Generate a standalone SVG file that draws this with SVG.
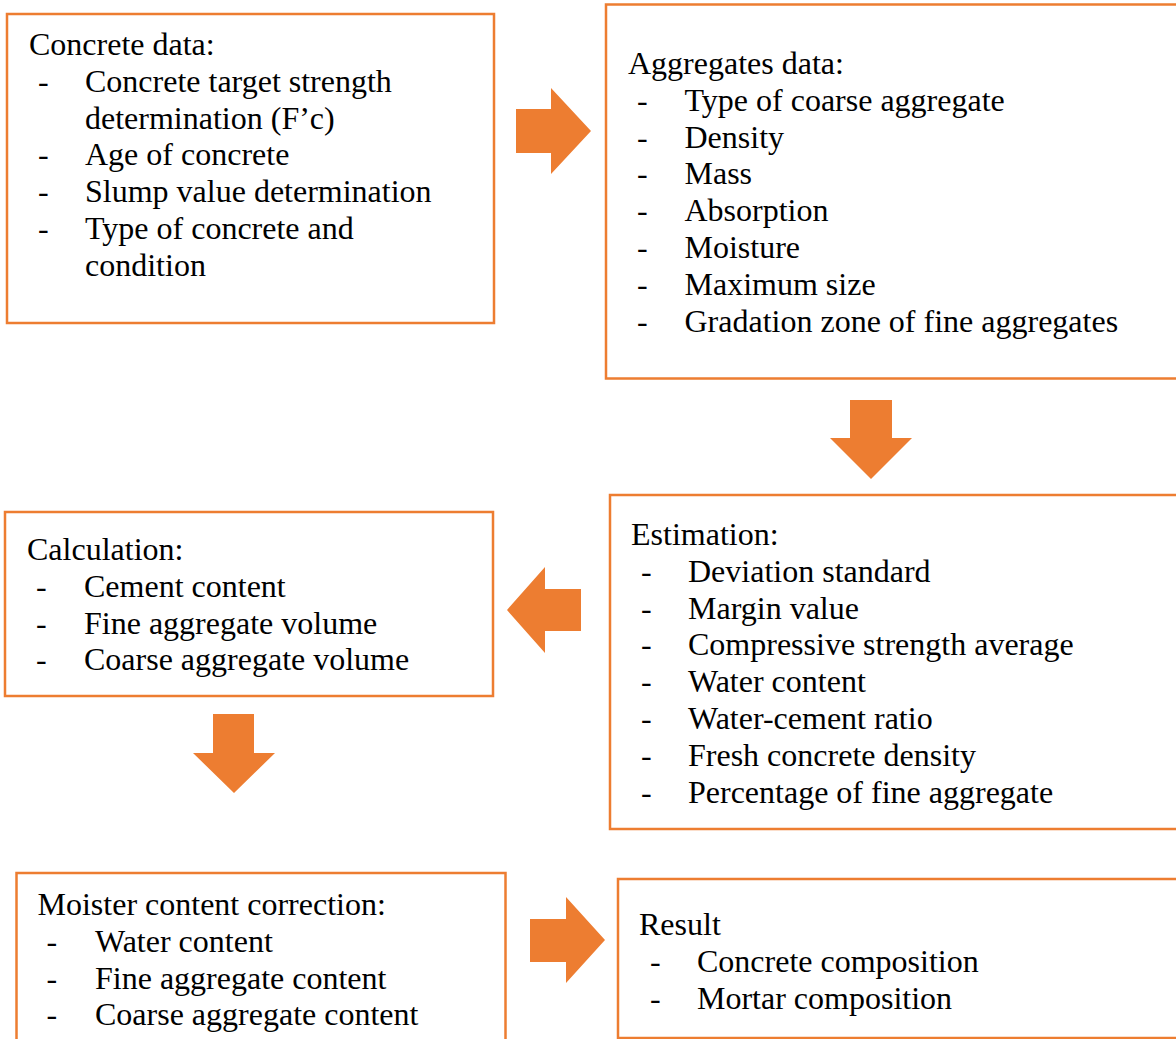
<svg xmlns="http://www.w3.org/2000/svg" width="1176" height="1039" viewBox="0 0 1176 1039">
<style>
.box{fill:#ffffff;stroke:#ED7D31;stroke-width:2.5}
.arr{fill:#ED7D31;stroke:none}
text{font-family:"Liberation Serif","Times New Roman",serif;font-size:32px;fill:#000000}
</style>
<rect x="0" y="0" width="1176" height="1039" fill="#ffffff"/>
<g id="concrete-data">
<rect class="box" x="7" y="14" width="487" height="309"/>
<text x="29" y="55">Concrete data:</text>
<text x="38" y="91.8">-</text><text x="85" y="91.8">Concrete target strength</text>
<text x="85" y="128.6">determination (F’c)</text>
<text x="38" y="165.4">-</text><text x="85" y="165.4">Age of concrete</text>
<text x="38" y="202.2">-</text><text x="85" y="202.2">Slump value determination</text>
<text x="38" y="239">-</text><text x="85" y="239">Type of concrete and</text>
<text x="85" y="275.8">condition</text>
</g>
<g id="aggregates-data">
<rect class="box" x="606" y="4.5" width="580" height="374"/>
<text x="628" y="74">Aggregates data:</text>
<text x="637" y="110.8">-</text><text x="684.5" y="110.8">Type of coarse aggregate</text>
<text x="637" y="147.6">-</text><text x="684.5" y="147.6">Density</text>
<text x="637" y="184.4">-</text><text x="684.5" y="184.4">Mass</text>
<text x="637" y="221.2">-</text><text x="684.5" y="221.2">Absorption</text>
<text x="637" y="258">-</text><text x="684.5" y="258">Moisture</text>
<text x="637" y="294.8">-</text><text x="684.5" y="294.8">Maximum size</text>
<text x="637" y="331.6">-</text><text x="684.5" y="331.6">Gradation zone of fine aggregates</text>
</g>
<g id="estimation">
<rect class="box" x="610" y="495" width="580" height="334"/>
<text x="631" y="545">Estimation:</text>
<text x="641" y="581.8">-</text><text x="688" y="581.8">Deviation standard</text>
<text x="641" y="618.6">-</text><text x="688" y="618.6">Margin value</text>
<text x="641" y="655.4">-</text><text x="688" y="655.4">Compressive strength average</text>
<text x="641" y="692.2">-</text><text x="688" y="692.2">Water content</text>
<text x="641" y="729">-</text><text x="688" y="729">Water-cement ratio</text>
<text x="641" y="765.8">-</text><text x="688" y="765.8">Fresh concrete density</text>
<text x="641" y="802.6">-</text><text x="688" y="802.6">Percentage of fine aggregate</text>
</g>
<g id="calculation">
<rect class="box" x="5" y="512" width="488" height="184"/>
<text x="27" y="560">Calculation:</text>
<text x="36" y="596.8">-</text><text x="84" y="596.8">Cement content</text>
<text x="36" y="633.6">-</text><text x="84" y="633.6">Fine aggregate volume</text>
<text x="36" y="670.4">-</text><text x="84" y="670.4">Coarse aggregate volume</text>
</g>
<g id="moisture-correction">
<rect class="box" x="16.5" y="873" width="489" height="200"/>
<text x="37.5" y="915">Moister content correction:</text>
<text x="46.5" y="951.8">-</text><text x="95" y="951.8">Water content</text>
<text x="46.5" y="988.6">-</text><text x="95" y="988.6">Fine aggregate content</text>
<text x="46.5" y="1025.4">-</text><text x="95" y="1025.4">Coarse aggregate content</text>
</g>
<g id="result">
<rect class="box" x="618" y="879" width="580" height="159"/>
<text x="639" y="935">Result</text>
<text x="650" y="971.8">-</text><text x="697" y="971.8">Concrete composition</text>
<text x="650" y="1008.6">-</text><text x="697" y="1008.6">Mortar composition</text>
</g>
<g id="connectors">
<polygon class="arr" points="516,109 551,109 551,88 591,131 551,174 551,153 516,153"/>
<polygon class="arr" points="850,400 892,400 892,438 912,438 871,479 830,438 850,438"/>
<polygon class="arr" points="581,589 545,589 545,567 507,610 545,653 545,631 581,631"/>
<polygon class="arr" points="213,714 254,714 254,753 275,753 234,793 193,753 213,753"/>
<polygon class="arr" points="530,919 566,919 566,897 605,940 566,983 566,962 530,962"/>
</g>
</svg>
